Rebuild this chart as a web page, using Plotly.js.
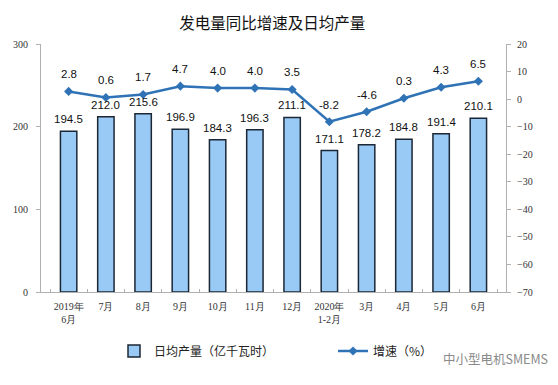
<!DOCTYPE html>
<html>
<head>
<meta charset="utf-8">
<script src="https://cdn.plot.ly/plotly-3.0.1.min.js"></script>
<style>html,body{margin:0;padding:0;background:#fff;}#chart{width:558px;height:385px;}</style>
</head>
<body>
<div id="chart"></div>
<script>
const categories = ["2019-06","2019-07","2019-08","2019-09","2019-10","2019-11","2019-12","2020-01/02","2020-03","2020-04","2020-05","2020-06"];
const tickLabels = ["2019年<br>6月","7月","8月","9月","10月","11月","12月","2020年<br>1-2月","3月","4月","5月","6月"];
const dailyOutput = [194.5, 212.0, 215.6, 196.9, 184.3, 196.3, 211.1, 171.1, 178.2, 184.8, 191.4, 210.1];
const growthRate = [2.8, 0.6, 1.7, 4.7, 4.0, 4.0, 3.5, -8.2, -4.6, 0.3, 4.3, 6.5];

const labelFont = {family: "Liberation Sans, Arial, sans-serif", size: 11.5, color: "#111"};
const cjk = "Noto Sans CJK SC, sans-serif";

const traces = [
  {
    type: "bar", name: "日均产量（亿千瓦时）", x: categories, y: dailyOutput,
    width: 0.44, legend: "legend",
    marker: {color: "#99C9F5", line: {color: "#1b2735", width: 1.5}},
    hoverinfo: "skip"
  },
  {
    type: "scatter", mode: "lines+markers", name: "增速（%）", x: categories, y: growthRate,
    yaxis: "y2", legend: "legend2",
    line: {color: "#2F73B6", width: 2.5},
    marker: {symbol: "diamond", size: 7, color: "#2F73B6"},
    hoverinfo: "skip"
  }
];

const annotations = [];
categories.forEach((c, i) => {
  annotations.push({x: c, y: dailyOutput[i], xref: "x", yref: "y", text: dailyOutput[i].toFixed(1),
    showarrow: false, yanchor: "bottom", yshift: 4, font: labelFont});
  annotations.push({x: c, y: growthRate[i], xref: "x", yref: "y2", text: growthRate[i].toFixed(1),
    showarrow: false, yanchor: "bottom", yshift: 9, font: labelFont});
});
annotations.push({xref: "paper", yref: "paper", x: 1.094, y: -0.27, xanchor: "right", yanchor: "middle",
  text: "中小型电机SMEMS", showarrow: false, font: {family: cjk, size: 12.5, color: "#8a8a8a"}});

const legendFont = {family: cjk, size: 12, color: "#222"};

const layout = {
  width: 558, height: 385,
  margin: {l: 41, r: 52, t: 44, b: 93},
  paper_bgcolor: "#fff", plot_bgcolor: "#fff",
  title: {text: "发电量同比增速及日均产量", x: 0.488, xanchor: "center", y: 0.938, yanchor: "middle",
    font: {family: cjk, size: 15.5, color: "#111"}},
  showlegend: true,
  legend: {orientation: "h", x: 0.157, xanchor: "left", y: -0.238, yanchor: "middle",
    font: legendFont, bgcolor: "rgba(0,0,0,0)"},
  legend2: {orientation: "h", x: 0.628, xanchor: "left", y: -0.238, yanchor: "middle",
    font: legendFont, bgcolor: "rgba(0,0,0,0)"},
  xaxis: {
    type: "category", tickvals: categories, ticktext: tickLabels, tickangle: 0,
    showline: true, linecolor: "#b0b0b0", linewidth: 1,
    ticks: "inside", tickson: "boundaries", ticklen: 3, tickcolor: "#b0b0b0",
    showgrid: false, zeroline: false,
    tickfont: {family: "Liberation Serif, serif", size: 10, color: "#333"},
    ticklabelstandoff: 5,
    fixedrange: true
  },
  yaxis: {
    range: [0, 300], tickvals: [0, 100, 200, 300],
    showline: true, linecolor: "#b0b0b0", linewidth: 1,
    ticks: "outside", ticklen: 4, tickcolor: "#b0b0b0",
    showgrid: false, zeroline: false,
    tickfont: {family: "Liberation Serif, serif", size: 10, color: "#333"},
    ticklabelstandoff: 6
  },
  yaxis2: {
    range: [-70, 20], dtick: 10, overlaying: "y", side: "right",
    showline: true, linecolor: "#b0b0b0", linewidth: 1,
    ticks: "outside", ticklen: 4, tickcolor: "#b0b0b0",
    showgrid: false, zeroline: false,
    tickfont: {family: "Liberation Serif, serif", size: 10, color: "#333"},
    ticklabelstandoff: 4
  },
  annotations: annotations,
  bargap: 0.56
};

Plotly.newPlot("chart", traces, layout, {displayModeBar: false, staticPlot: true});
</script>
</body>
</html>
